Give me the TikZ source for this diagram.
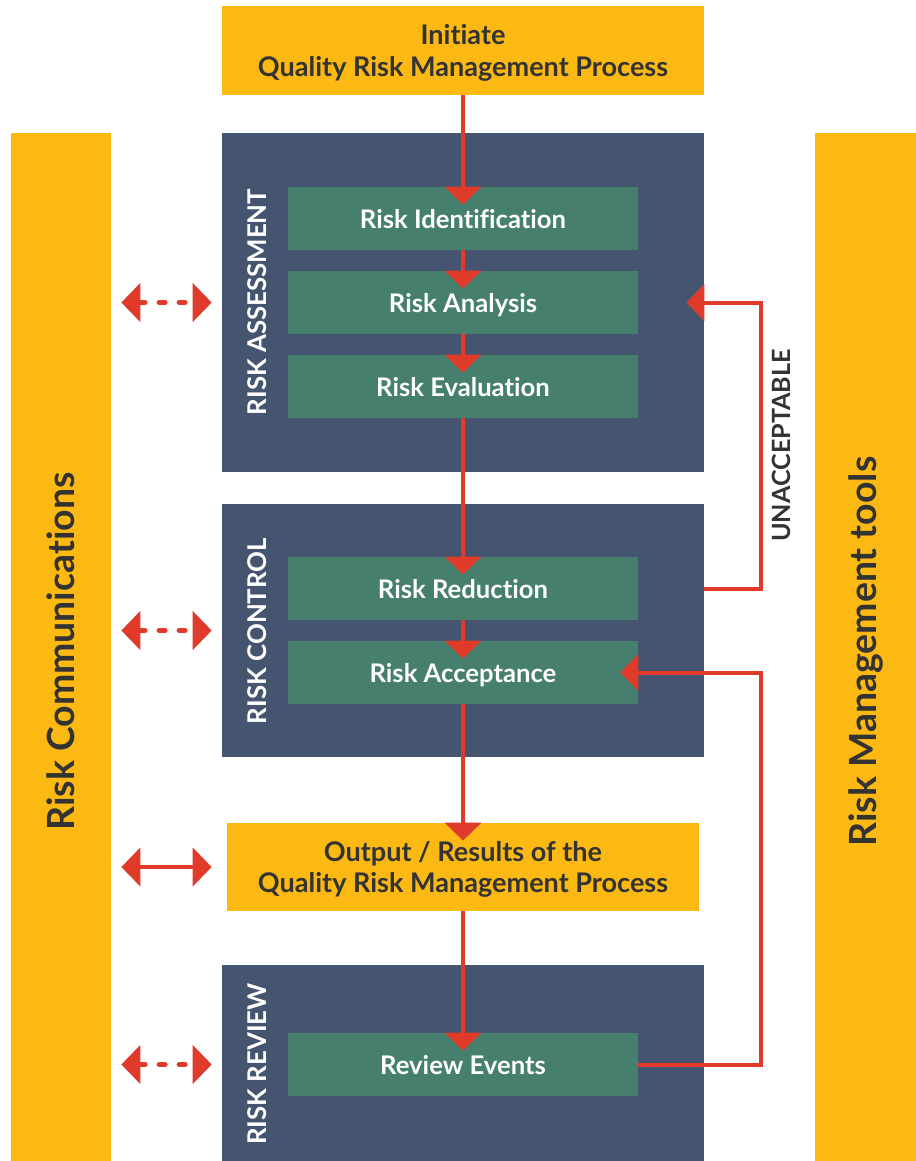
\documentclass[tikz,border=0pt]{standalone}
\usepackage{fontspec}
\setmainfont{Lato}[Ligatures={TeX,NoCommon}]
\usetikzlibrary{arrows.meta}

\definecolor{qyellow}{HTML}{FDB913}
\definecolor{qslate}{HTML}{45556F}
\definecolor{qgreen}{HTML}{467F6E}
\definecolor{qred}{HTML}{E03A2A}
\definecolor{qtext}{HTML}{333333}

\begin{document}
\begin{tikzpicture}[
    x=0.02cm, y=-0.02cm,
    block/.style={
        inner sep=0pt,
        align=center
    },
    yellowbox/.style={block, fill=qyellow, text=qtext, text depth=0pt, font=\fontsize{15.4}{18}\selectfont\bfseries},
    sidebar/.style={block, fill=qyellow, text=qtext, rotate=90, minimum width=20.56cm, font=\fontsize{21.3}{25}\selectfont\bfseries},
    panel/.style={block, fill=qslate, minimum width=9.64cm},
    stepbox/.style={block, fill=qgreen, text=white, text depth=0pt, minimum width=7cm, minimum height=1.26cm, font=\fontsize{14.6}{17}\selectfont\bfseries},
    panellabel/.style={rotate=90, text=white, font=\fontsize{14.7}{17}\selectfont\bfseries},
    flow/.style={draw=qred, line width=0.08cm, -{Triangle[length=0.36cm, width=0.72cm]}, shorten >=-0.36cm},
    comm/.style={draw=qred, line width=0.09cm, {Triangle[length=0.38cm, width=0.76cm]}-{Triangle[length=0.38cm, width=0.76cm]}, shorten <=0.2cm, shorten >=0.2cm},
    commdash/.style={comm, line cap=round, line width=0.1cm, dash pattern=on 0.12cm off 0.28cm}
]
\useasboundingbox (0,0) rectangle (916,1161);

% side bars
\node[sidebar, minimum height=2cm] (comms) at (61,647) {
Risk Communications
};

\node[sidebar, minimum height=2.02cm] (tools) at (865.5,647) {
Risk Management tools
};

% start and output
\node[yellowbox, minimum width=9.64cm, minimum height=1.78cm] (init) at (463,50.5) {
Initiate\\
Quality Risk Management Process
};

\node[yellowbox, minimum width=9.44cm, minimum height=1.76cm] (output) at (463,867) {
Output / Results of the\\
Quality Risk Management Process
};

% panels
\node[panel, minimum height=6.78cm] (assess) at (463,302.5) {};
\node[panel, minimum height=5.06cm] (control) at (463,630.5) {};
\node[panel, minimum height=3.92cm] (review) at (463,1063) {};

\node[panellabel] (assesslabel) at (257,302) {RISK ASSESSMENT};
\node[panellabel] (controllabel) at (257,631) {RISK CONTROL};
\node[panellabel] (reviewlabel) at (257,1064) {RISK REVIEW};

% steps
\node[stepbox] (ident) at (463,218.5) {Risk Identification};
\node[stepbox] (analysis) at (463,302.5) {Risk Analysis};
\node[stepbox] (evaluation) at (463,386.5) {Risk Evaluation};
\node[stepbox] (reduction) at (463,588.5) {Risk Reduction};
\node[stepbox] (acceptance) at (463,672.5) {Risk Acceptance};
\node[stepbox] (events) at (463,1064.5) {Review Events};

\coordinate (loopx) at (761,0);

% main flow
\draw[flow] (init) -- (ident);
\draw[flow] (ident) -- (analysis);
\draw[flow] (analysis) -- (evaluation);
\draw[flow] (evaluation) -- (reduction);
\draw[flow] (reduction) -- (acceptance);
\draw[flow] (acceptance) -- (output);
\draw[flow] (output) -- (events);

% loops back
\draw[flow, line join=miter] (control.east |- reduction) -- (loopx |- reduction)
    -- node[midway, rotate=90, anchor=north, inner sep=5pt, text=qtext, font=\fontsize{14.3}{17}\selectfont\bfseries] {UNACCEPTABLE}
    (loopx |- analysis) -- (assess.east |- analysis);
\draw[flow, line join=miter] (events) -- (loopx |- events) -- (loopx |- acceptance) -- (acceptance);

% communication arrows
\draw[commdash] (comms.south |- analysis) -- (assess.west |- analysis);
\draw[commdash] (comms.south |- control) -- (control.west);
\draw[comm] (comms.south |- output) -- (assess.west |- output);
\draw[commdash] (comms.south |- events) -- (review.west |- events);

\end{tikzpicture}
\end{document}
